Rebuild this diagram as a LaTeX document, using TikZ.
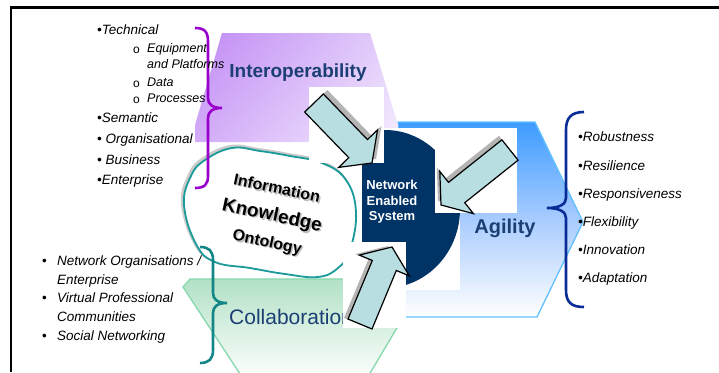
\documentclass[tikz,border=0pt]{standalone}
\usepackage{fontspec}
\setmainfont{Liberation Sans}
\usepackage{tikz}
\usetikzlibrary{calc,shadings}

\definecolor{navyblue}{HTML}{003366}
\definecolor{labelblue}{HTML}{1B3F73}
\definecolor{arrowfill}{HTML}{B9DEE1}
\definecolor{arrowshade}{HTML}{B4B4B4}
\definecolor{braceviolet}{HTML}{9900CC}
\definecolor{braceteal}{HTML}{138787}
\definecolor{braceblue}{HTML}{0A2C96}
\definecolor{cloudteal}{HTML}{1A9A98}
\definecolor{interA}{HTML}{C08AF4}
\definecolor{interB}{HTML}{E4D0FB}
\definecolor{interC}{HTML}{D3ACF8}
\definecolor{interD}{HTML}{F4EDFE}
\definecolor{agileA}{HTML}{3D9BFF}
\definecolor{agileB}{HTML}{A9CCFF}
\definecolor{agileline}{HTML}{62C0FF}
\definecolor{collabA}{HTML}{B2E1C6}
\definecolor{collabline}{HTML}{84D8AC}

% block arrow: #1 tail, #2 tip, #3 shadow shift
\newcommand{\blockarrow}[3]{%
  \coordinate (#1-b) at ($(#2)!\headl pt!(#1)$);
  \filldraw[arrowbody, preaction={fill=arrowshade, transform canvas={shift={#3}}}]
    ($(#1)!\shaftw pt!90:(#2)$) -- ($(#1-b)!\shaftw pt!90:(#2)$)
    -- ($(#1-b)!\headw pt!90:(#2)$) -- (#2)
    -- ($(#1-b)!\headw pt!-90:(#2)$) -- ($(#1-b)!\shaftw pt!-90:(#2)$)
    -- ($(#1)!\shaftw pt!-90:(#2)$) -- cycle;
}

\begin{document}
\begin{tikzpicture}[x=1pt,y=-1pt,
  listitem/.style={anchor=west, inner sep=0pt, text height=9pt, text depth=2.5pt,
                   font=\fontsize{13.5}{15}\selectfont\itshape},
  subitem/.style={listitem, font=\fontsize{12.5}{14}\selectfont\itshape},
  dotitem/.style={listitem, font=\fontsize{13.5}{15}\selectfont},
  ringitem/.style={listitem, font=\fontsize{12}{14}\selectfont},
  heading/.style={inner sep=0pt, text=labelblue, font=\fontsize{19}{22}\selectfont\bfseries},
  cloudtext/.style={inner sep=0pt, rotate=-12},
  arrowbody/.style={fill=arrowfill, draw=black, line width=1.2pt, line join=miter},
  brace/.style={line width=2.6pt}]

  \pgfmathsetmacro\shaftw{13}   % half width of arrow shaft
  \pgfmathsetmacro\headw{27}    % half width of arrow head
  \pgfmathsetmacro\headl{20}    % length of arrow head

  \useasboundingbox (0,0) rectangle (719,372);

% frame
  \draw[line width=2.5pt] (11,372) -- (11,7.5) -- (719,7.5);

% hexagons
  \shade[top color=collabA, bottom color=white, draw=collabline, line width=1.3pt]
    (190,279) -- (426,279) -- (366,380) -- (244,380) -- (183,287) -- cycle;
  \shade[top color=agileA, bottom color=white, middle color=agileB, draw=agileline, line width=1.3pt]
    (398,122) -- (535,122) -- (583,222) -- (537,317) -- (398,317) -- cycle;
  \shade[upper left=interA, upper right=interB, lower left=interC, lower right=interD]
    (222,33) -- (370,33) -- (398,125) -- (398,142) -- (195,142) -- (195,125) -- cycle;

% cloud
  \draw[arrowshade!70, line width=3pt, transform canvas={shift={(-1.5,-1.5)}}]
    plot[smooth cycle, tension=0.7] coordinates {(205,160) (232,148) (260,151) (290,156)
      (322,163) (346,180) (356,212) (350,250) (338,268) (318,277) (285,274) (250,268)
      (215,262) (196,244) (184,205) (191,176)};
  \filldraw[fill=white, draw=cloudteal, line width=1.8pt]
    plot[smooth cycle, tension=0.7] coordinates {(205,160) (232,148) (260,151) (290,156)
      (322,163) (346,180) (356,212) (350,250) (338,268) (318,277) (285,274) (250,268)
      (215,262) (196,244) (184,205) (191,176)};
  \node[cloudtext, text=black!25, font=\fontsize{16}{18}\selectfont\bfseries] (infosh) at (278.5,189.5) {Information};
  \node[cloudtext, font=\fontsize{16}{18}\selectfont\bfseries] (info) at (277,188) {Information};
  \node[cloudtext, text=black!25, font=\fontsize{19}{22}\selectfont\bfseries] (knowsh) at (273.5,217.5) {Knowledge};
  \node[cloudtext, font=\fontsize{19}{22}\selectfont\bfseries] (know) at (272,216) {Knowledge};
  \node[cloudtext, text=black!25, font=\fontsize{16}{18}\selectfont\bfseries] (ontosh) at (268.5,244.5) {Ontology};
  \node[cloudtext, font=\fontsize{16}{18}\selectfont\bfseries] (onto) at (267,243) {Ontology};

% hexagon labels
  \node[heading] (interop) at (298,73) {Interoperability};
  \node[heading, font=\fontsize{20}{23}\selectfont\bfseries] (agility) at (505,228) {Agility};
  \node[heading, anchor=west, font=\fontsize{21}{24}\selectfont] (collab) at (229,317) {Collaboration};

% network enabled system
  \fill[white] (362,128) rectangle (460,290);
  \fill[navyblue] (362,130) -- (385,130)
    arc[start angle=90, end angle=-90, x radius=75pt, y radius=79pt] -- (362,288) -- cycle;
  \node[align=center, text=white, inner sep=0pt, font=\fontsize{13}{15.5}\selectfont\bfseries]
    (nes) at (392,202) {Network\\Enabled\\System};

% arrows into the system
  \fill[white] (309,87) rectangle (384,163);
  \fill[white] (435,128) rectangle (517,213);
  \fill[white] (343,242) rectangle (406,328);
  \coordinate (aIn) at (314,103);
  \coordinate (aInTip) at (372,163);
  \coordinate (aAg) at (510,150);
  \coordinate (aAgTip) at (441,205);
  \coordinate (aCo) at (360,324);
  \coordinate (aCoTip) at (392,247);
  \blockarrow{aIn}{aInTip}{(4,-4)}
  \blockarrow{aAg}{aAgTip}{(-3,-4)}
  \blockarrow{aCo}{aCoTip}{(-4,-1)}

% braces
  \draw[brace, braceviolet] (195,28) .. controls (205,28) and (208,32) .. (208,42) -- (208,98)
    .. controls (208,104) and (212,108) .. (222,108) .. controls (212,108) and (208,112) .. (208,118)
    -- (208,176) .. controls (208,184) and (205,188) .. (195,188);
  \draw[brace, braceteal] (200,247) .. controls (209,247) and (213,251) .. (213,260) -- (213,293)
    .. controls (213,299) and (217,303) .. (227,303) .. controls (217,303) and (213,307) .. (213,313)
    -- (213,350) .. controls (213,359) and (209,363) .. (200,363);
  \draw[brace, braceblue] (584,112) .. controls (571,112) and (566,118) .. (566,130) -- (566,198)
    .. controls (566,204) and (560,208) .. (547,208) .. controls (560,208) and (566,212) .. (566,218)
    -- (566,290) .. controls (566,302) and (571,307) .. (584,307);

% interoperability list
  \node[listitem] (tech) at (97,31) {•Technical};
  \node[ringitem] (equipo) at (133,50) {o};
  \node[subitem] (equip) at (147,49) {Equipment};
  \node[subitem] (platf) at (147,65) {and Platforms};
  \node[ringitem] (datao) at (133,84) {o};
  \node[subitem] (data) at (147,83) {Data};
  \node[ringitem] (procso) at (133,100) {o};
  \node[subitem] (procs) at (147,99) {Processes};
  \node[listitem] (seman) at (97,119) {•Semantic};
  \node[listitem] (organ) at (97,140) {• Organisational};
  \node[listitem] (busin) at (97,161) {• Business};
  \node[listitem] (enter) at (97,181) {•Enterprise};

% collaboration list
  \node[dotitem] (netb) at (42,262) {•};
  \node[listitem] (netorg) at (57,262) {Network Organisations /};
  \node[listitem] (netent) at (57,281) {Enterprise};
  \node[dotitem] (virtb) at (42,299) {•};
  \node[listitem] (virt) at (57,299) {Virtual Professional};
  \node[listitem] (comm) at (57,318) {Communities};
  \node[dotitem] (socb) at (42,337) {•};
  \node[listitem] (soc) at (57,337) {Social Networking};

% agility list
  \node[listitem] (robust) at (578,138) {•Robustness};
  \node[listitem] (resil) at (578,167) {•Resilience};
  \node[listitem] (respon) at (578,195) {•Responsiveness};
  \node[listitem] (flex) at (578,223) {•Flexibility};
  \node[listitem] (innov) at (578,251) {•Innovation};
  \node[listitem] (adapt) at (578,279) {•Adaptation};

\end{tikzpicture}
\end{document}
